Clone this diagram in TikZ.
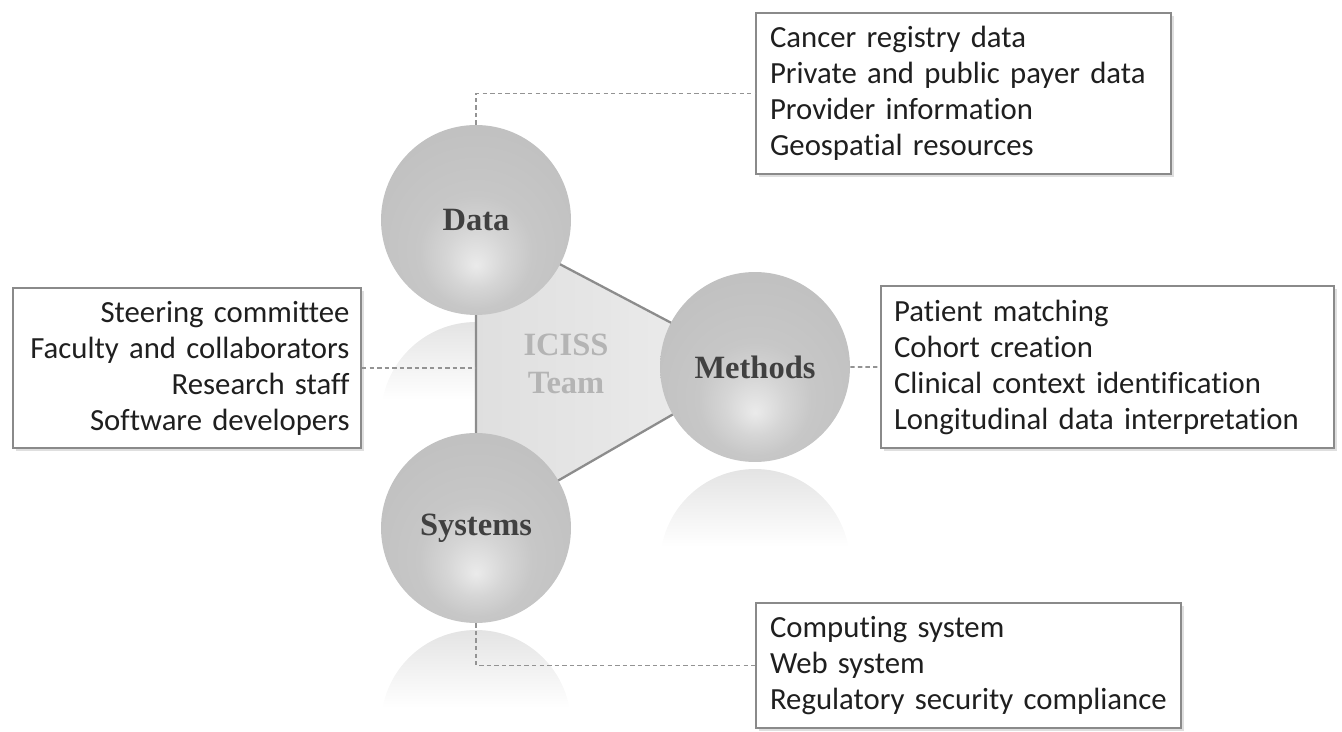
\documentclass[tikz,border=0pt]{standalone}
\usepackage{fontspec}
\setmainfont{Carlito}[Ligatures=NoCommon]
\newfontfamily\ballfont{Liberation Serif}
\usepackage{tikz}
\usetikzlibrary{positioning, calc, shadows}

\definecolor{boxline}{HTML}{8A8A8A}
\definecolor{teamgray}{HTML}{B4B4B4}
\pgfdeclareradialshading{sphereshade}{\pgfpoint{0bp}{-12bp}}{%
  color(0bp)=(gray!16); color(8bp)=(gray!33); color(15bp)=(gray!44);
  color(30bp)=(gray!49); color(50bp)=(gray!55)}

\begin{document}
\begin{tikzpicture}[x=0.02cm, y=-0.02cm,
    ball/.style={circle, minimum size=3.8cm, inner sep=0pt, shade, shading=sphereshade,
      font=\ballfont\fontsize{18.5}{20}\selectfont\bfseries, text=black!75},
    listbox/.style={draw=boxline, line width=1.2pt, fill=white, anchor=north west,
      inner ysep=0pt, font=\fontsize{17.5}{20.5}\selectfont, text=black!88,
      drop shadow={opacity=0.25, shadow xshift=1.5pt, shadow yshift=-1.5pt}},
    lnk/.style={draw=gray!85, line width=1pt, dash pattern=on 2.5pt off 1.8pt},
    edge/.style={draw=gray!90, line width=1.3pt}
  ]
  \useasboundingbox (0,0) rectangle (1342,732);
  % centres of the three spheres
  \coordinate (cd) at (476,220);
  \coordinate (cm) at (755,367);
  \coordinate (cs) at (476,528);
  % faint reflections below the spheres
  \foreach \c in {cd, cm, cs} {
    \begin{scope}
      \clip ($(\c)+(0,197)$) circle (1.9cm);
      \shade[top color=gray!22, bottom color=white]
        ($(\c)+(-100,100)$) rectangle ($(\c)+(100,180)$);
    \end{scope}
  }
  % team triangle
  \draw[edge, left color=gray!25, right color=gray!13] (cd) -- (cm) -- (cs) -- cycle;
  \node[font=\ballfont\fontsize{18.5}{21.5}\selectfont\bfseries, text=teamgray, align=center]
    (team) at (566,364) {ICISS\\Team};
  % spheres
  \node[ball] (data) at (cd) {Data};
  \node[ball] (methods) at (cm) {Methods};
  \node[ball] (systems) at (cs) {Systems};
  % lists
  \node[listbox, minimum width=8.3cm, minimum height=3.22cm, inner xsep=0.28cm,
    text width=7.74cm, align=left] (databox) at (755,12)
    {Cancer registry data\\Private and public payer data\\Provider information\\Geospatial resources};
  \node[listbox, minimum width=6.96cm, minimum height=3.2cm, inner xsep=0.23cm,
    text width=6.5cm, align=right] (teambox) at (12,287)
    {Steering committee\\Faculty and collaborators\\Research staff\\Software developers};
  \node[listbox, minimum width=9.06cm, minimum height=3.24cm, inner xsep=0.26cm,
    text width=8.54cm, align=left] (methbox) at (880,285)
    {Patient matching\\Cohort creation\\Clinical context identification\\Longitudinal data interpretation};
  \node[listbox, minimum width=8.5cm, minimum height=2.5cm, inner xsep=0.28cm,
    text width=7.94cm, align=left] (sysbox) at (755,602)
    {Computing system\\Web system\\Regulatory security compliance};
  % dashed links
  \draw[lnk] (data.north) |- (databox.west);
  \draw[lnk] (teambox.east) -- (teambox.east -| data.center);
  \draw[lnk] (methods.east) -- (methbox.west);
  \draw[lnk] (systems.south) |- (sysbox.west);
\end{tikzpicture}
\end{document}
